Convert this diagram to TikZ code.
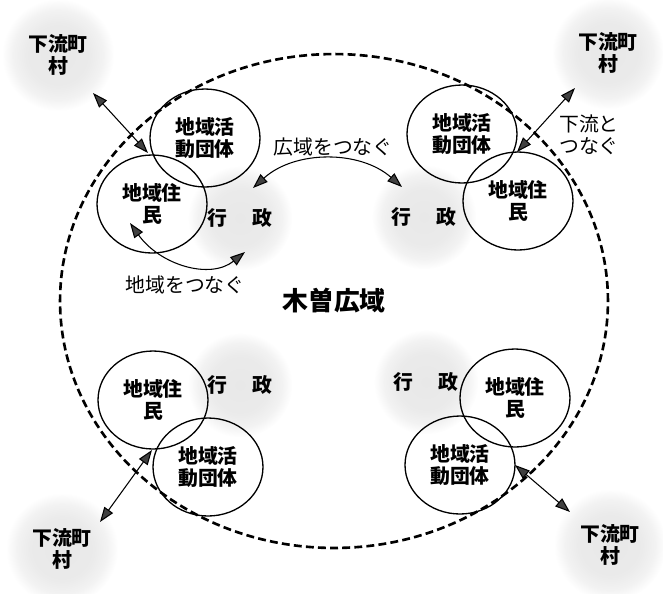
\documentclass[tikz,border=0pt]{standalone}
\usepackage{fontspec}
\setmainfont{Noto Sans CJK JP}
\usetikzlibrary{shapes.geometric,arrows.meta}
\pgfdeclareradialshading{blobshade}{\pgfpoint{0bp}{0bp}}{color(0bp)=(black!9); color(14bp)=(black!8); color(20bp)=(black!5); color(25bp)=(white); color(50bp)=(white)}
\begin{document}
\begin{tikzpicture}[x=0.02cm,y=-0.02cm,
  jtext/.style={font=\fontsize{11.3}{12.5}\selectfont\bfseries, align=center},
  ring/.style={draw, ellipse, line width=0.75pt, minimum width=2.2cm, minimum height=1.96cm, inner sep=0pt, jtext},
  blob/.style={circle, shading=blobshade, minimum size=2.25cm, inner sep=0pt, jtext},
  gblob/.style={circle, shading=blobshade, minimum size=2.1cm, inner sep=0pt, jtext},
  tip/.style={{Triangle[length=8.5pt,width=6pt,fill=black!75]}-{Triangle[length=8.5pt,width=6pt,fill=black!75]}, line width=0.6pt},
  lbl/.style={font=\fontsize{11.3}{12.5}\selectfont, align=center, inner sep=0pt}
]
\useasboundingbox (0,0) rectangle (663,593);
% outer villages
\node[blob] (dTL) at (58,55) {下流町\\村};
\node[blob] (dTR) at (608,53) {下流町\\村};
\node[blob] (dBL) at (62,549) {下流町\\村};
\node[blob] (dBR) at (610,545) {下流町\\村};
% administration
\node[gblob] (gTL) at (240,218) {行\hspace{1.3em}政};
\node[gblob] (gTR) at (424,217) {行\hspace{1.3em}政};
\node[gblob] (gBL) at (240,385) {行\hspace{1.3em}政};
\node[gblob] (gBR) at (426,382) {行\hspace{1.3em}政};
% big dashed region
\node[draw, ellipse, dash pattern=on 4.5pt off 2.4pt, line width=1.5pt,
      minimum width=10.96cm, minimum height=9.88cm, inner sep=0pt,
      font=\fontsize{14.7}{16}\selectfont\bfseries] (kiso) at (334,301) {木曽広域};
% circles
\node[ring] (aTL) at (205,138) {地域活\\動団体};
\node[ring] (rTL) at (152,204) {地域住\\民};
\node[ring] (aTR) at (462,134) {地域活\\動団体};
\node[ring] (rTR) at (518,201) {地域住\\民};
\node[ring] (rBL) at (153,400) {地域住\\民};
\node[ring] (aBL) at (208,467) {地域活\\動団体};
\node[ring] (rBR) at (515,398) {地域住\\民};
\node[ring] (aBR) at (460,465) {地域活\\動団体};
% arrow end points
\coordinate (pTL1) at (93,93);   \coordinate (pTL2) at (148,153);
\coordinate (pTR1) at (517,152); \coordinate (pTR2) at (575,88);
\coordinate (pBL1) at (152,450); \coordinate (pBL2) at (100,522);
\coordinate (pBR1) at (515,465); \coordinate (pBR2) at (570,512);
\draw[tip] (pTL1) -- (pTL2);
\draw[tip] (pTR1) -- (pTR2);
\draw[tip] (pBL1) -- (pBL2);
\draw[tip] (pBR1) -- (pBR2);
% curved arrows
\coordinate (wA) at (253,188); \coordinate (wB) at (402,187);
\draw[tip] (wA) .. controls (295,150) and (360,150) .. (wB);
\coordinate (lA) at (130,223); \coordinate (lB) at (245,252);
\draw[tip] (lA) .. controls (160,265) and (210,280) .. (lB);
% labels
\node[lbl] (tWide) at (333,147) {広域をつなぐ};
\node[lbl] (tLocal) at (185,285) {地域をつなぐ};
\node[lbl] (tDown) at (589,135) {下流と\\つなぐ};
\end{tikzpicture}
\end{document}
